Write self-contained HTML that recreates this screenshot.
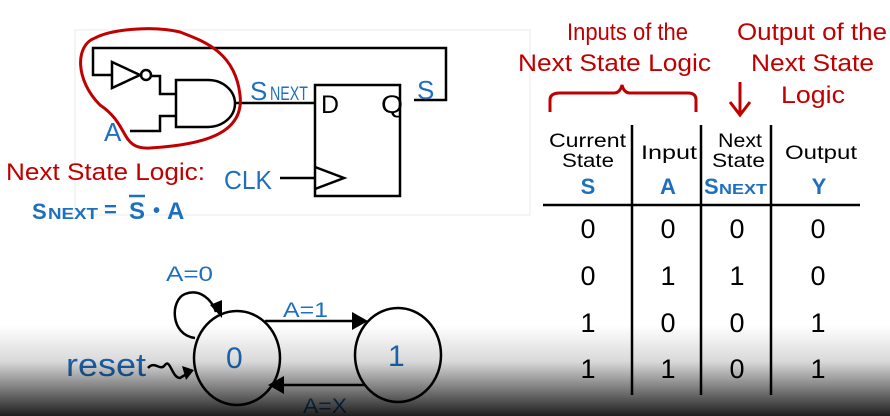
<!DOCTYPE html>
<html><head><style>
html,body{margin:0;padding:0;width:890px;height:416px;overflow:hidden;background:#fff}
svg{position:absolute;left:0;top:0}
text{font-family:"Liberation Sans",sans-serif}
</style></head><body>
<svg width="890" height="416" viewBox="0 0 890 416">
<defs>
<linearGradient id="g" x1="0" y1="0" x2="0" y2="1">
<stop offset="0" stop-color="#000" stop-opacity="0"/>
<stop offset="0.4" stop-color="#000" stop-opacity="0.15"/>
<stop offset="1" stop-color="#000" stop-opacity="0.88"/>
</linearGradient>
</defs>
<rect x="75" y="30" width="455" height="185" fill="none" stroke="#f0f0f0" stroke-width="1.5"/>
<g fill="none" stroke="#000" stroke-width="2.5">
<path d="M414 100 H446 V48 H93 V75 H112"/>
<path d="M112 62 L140 75 L112 88 Z"/>
<circle cx="146" cy="75" r="5"/>
<path d="M151 76 H160 V94 H176"/>
<path d="M176 80 V127 H208 A27 23.5 0 0 0 208 80 Z"/>
<path d="M176 116 H160 V131 H130"/>
<path d="M235 103 H315"/>
<rect x="315" y="85" width="85" height="111"/>
<path d="M280 178 H315"/>
<path d="M315 167 L344 178 L315 189"/>
</g>
<path d="M95 38 C75 45 75 80 100 105 C130 125 120 150 150 148 C200 145 245 135 240 95 C235 50 200 40 180 32 C150 25 110 30 95 38 Z" fill="none" stroke="#c00000" stroke-width="3"/>
<g fill="#1f6fbf" font-size="24" lengthAdjust="spacingAndGlyphs">
<text x="250" y="100" font-size="26" textLength="24">S</text>
<text x="270" y="100" font-size="19" textLength="38" lengthAdjust="spacingAndGlyphs">NEXT</text>
<text x="417" y="99" font-size="26">S</text>
<text x="104" y="141" font-size="26">A</text>
<text x="224" y="189" font-size="26" textLength="48" lengthAdjust="spacingAndGlyphs">CLK</text>
</g>
<text x="321" y="113" font-size="25" textLength="18" lengthAdjust="spacingAndGlyphs">D</text>
<text x="381" y="113" font-size="25" textLength="22" lengthAdjust="spacingAndGlyphs">Q</text>
<text x="6" y="180" font-size="24" fill="#c00000" textLength="199" lengthAdjust="spacingAndGlyphs">Next State Logic:</text>
<g font-weight="bold" fill="#1f6fbf">
<text x="32" y="219" font-size="22">S</text>
<text x="48" y="219" font-size="16" textLength="50" lengthAdjust="spacingAndGlyphs">NEXT</text>
<text x="104" y="217" font-size="22">=</text>
<text x="129" y="219" font-size="24">S</text>
<text x="153" y="217" font-size="20">•</text>
<text x="167" y="219" font-size="24">A</text>
</g>
<line x1="129" y1="196" x2="145" y2="196" stroke="#1f6fbf" stroke-width="2.5"/>
<!-- top right labels -->
<g fill="#c00000" font-size="24" lengthAdjust="spacingAndGlyphs">
<text x="567" y="40" textLength="121" lengthAdjust="spacingAndGlyphs">Inputs of the</text>
<text x="518" y="71" textLength="193" lengthAdjust="spacingAndGlyphs">Next State Logic</text>
<text x="737" y="40" textLength="150" lengthAdjust="spacingAndGlyphs">Output of the</text>
<text x="751" y="71" textLength="123" lengthAdjust="spacingAndGlyphs">Next State</text>
<text x="781" y="103" textLength="64" lengthAdjust="spacingAndGlyphs">Logic</text>
</g>
<path d="M550 112 V100 Q550 93 560 93 H614 Q620 93 622 85 Q624 93 630 93 H688 Q696 93 696 100 V112" fill="none" stroke="#c00000" stroke-width="3"/>
<path d="M740 82 V113 M730 102 L740 115 L750 102" fill="none" stroke="#c00000" stroke-width="3"/>
<!-- table -->
<g stroke="#000" stroke-width="2.5">
<line x1="543" y1="205" x2="860" y2="205"/>
<line x1="632" y1="125" x2="632" y2="395"/>
<line x1="701" y1="125" x2="701" y2="395"/>
<line x1="771" y1="125" x2="771" y2="395"/>
</g>
<g font-size="19" fill="#000">
<text x="549" y="147" textLength="77" lengthAdjust="spacingAndGlyphs">Current</text>
<text x="562" y="167" textLength="52" lengthAdjust="spacingAndGlyphs">State</text>
<text x="641" y="159" textLength="56" lengthAdjust="spacingAndGlyphs">Input</text>
<text x="718" y="147" textLength="44" lengthAdjust="spacingAndGlyphs">Next</text>
<text x="712" y="167" textLength="53" lengthAdjust="spacingAndGlyphs">State</text>
<text x="785" y="159" textLength="72" lengthAdjust="spacingAndGlyphs">Output</text>
</g>
<g font-size="22" font-weight="bold" fill="#1f6fbf" text-anchor="middle">
<text x="588" y="194">S</text><text x="668" y="194">A</text>
<text x="819" y="194">Y</text>
</g>
<g font-weight="bold" fill="#1f6fbf">
<text x="704" y="194" font-size="22">S</text>
<text x="719" y="194" font-size="15" textLength="48" lengthAdjust="spacingAndGlyphs">NEXT</text>
</g>
<g font-size="27" text-anchor="middle" fill="#000">
<text x="588" y="238">0</text><text x="668" y="238">0</text><text x="737" y="238">0</text><text x="818" y="238">0</text>
<text x="588" y="285">0</text><text x="668" y="285">1</text><text x="737" y="285">1</text><text x="818" y="285">0</text>
<text x="588" y="332">1</text><text x="668" y="332">0</text><text x="737" y="332">0</text><text x="818" y="332">1</text>
<text x="588" y="378">1</text><text x="668" y="378">1</text><text x="737" y="378">0</text><text x="818" y="378">1</text>
</g>
<!-- FSM -->
<g fill="none" stroke="#000" stroke-width="2.5">
<ellipse cx="237" cy="358" rx="43" ry="47"/>
<ellipse cx="398" cy="355" rx="43" ry="47"/>
<path d="M195 338 C170 335 170 300 185 294 C200 288 212 300 216 312"/>
<path d="M265 321 H355"/>
<path d="M365 385 H282"/>
<path d="M148 368 C155 360 160 372 165 365 C170 358 172 378 180 378 L190 372"/>
</g>
<path d="M210 305 L222 318 L222 300 Z" fill="#000"/>
<path d="M352 312 L368 321 L352 330 Z" fill="#000"/>
<path d="M284 376 L268 385 L284 394 Z" fill="#000"/>
<path d="M182 366 L194 370 L186 380 Z" fill="#000"/>
<g fill="#1f6fbf" font-size="21">
<text x="166" y="281" textLength="47" lengthAdjust="spacingAndGlyphs">A=0</text>
<text x="283" y="317" textLength="45" lengthAdjust="spacingAndGlyphs">A=1</text>
<text x="303" y="413" textLength="44" lengthAdjust="spacingAndGlyphs">A=X</text>
</g>
<g fill="#1f6fbf">
<text x="66" y="376" font-size="32" textLength="80" lengthAdjust="spacingAndGlyphs">reset</text>
<text x="226" y="368" font-size="30">0</text>
<text x="388" y="366" font-size="30">1</text>
</g>
<rect x="0" y="325" width="890" height="91" fill="url(#g)"/>
</svg>
</body></html>
